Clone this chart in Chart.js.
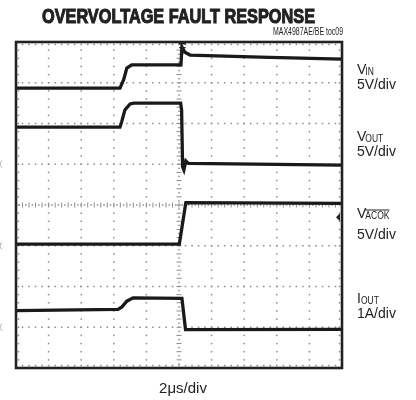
<!DOCTYPE html>
<html>
<head>
<meta charset="utf-8">
<script src="https://cdn.jsdelivr.net/npm/chart.js@4"></script>
<style>
  html, body { margin: 0; padding: 0; background: #fff; }
  #wrap { width: 416px; height: 400px; }
</style>
</head>
<body>
<div id="wrap"><canvas id="chart" width="416" height="400"></canvas></div>
<script>
// scope screen: x in divisions (2us/div, 10 div), y in divisions (8 div, 0 = bottom)
const vinT   = [0, 3.19, 3.30, 3.40, 3.55, 5.06, 5.09, 5.18, 5.34, 7.48, 10];
const vinV   = [6.87, 6.87, 7.07, 7.36, 7.44, 7.44, 7.88, 7.75, 7.68, 7.63, 7.58];

const voutT  = [0, 3.19, 3.24, 3.34, 3.50, 3.62, 5.05, 5.08, 5.11, 5.15, 5.21, 5.29, 10];
const voutV  = [5.91, 5.91, 6.04, 6.33, 6.48, 6.50, 6.50, 6.33, 4.94, 4.86, 5.08, 5.02, 4.98];

const acokT  = [0, 5.01, 5.21, 10];
const acokV  = [3.04, 3.04, 4.06, 4.04];

const ioutT  = [0, 3.13, 3.25, 3.40, 3.59, 5.09, 5.20, 10];
const ioutV  = [1.41, 1.44, 1.50, 1.64, 1.72, 1.71, 0.94, 0.95];

const chanMain  = ['V', 'V', 'V', 'I'];
const chanSub   = ['IN', 'OUT', 'ACOK', 'OUT'];
const chanScale = ['5V/div', '5V/div', '5V/div', '1A/div'];

const title = 'OVERVOLTAGE FAULT RESPONSE';
const figId = 'MAX4987AE/BE toc09';
const timeLabel = '2\u03bcs/div';

const pts = (t, v) => t.map((x, i) => ({ x, y: v[i] }));

function trace(data) {
  return { data, borderColor: '#1a1a1a', borderWidth: 3.3, pointRadius: 0, tension: 0, fill: false };
}

const gridPlugin = {
  id: 'scopeGrid',
  beforeDatasetsDraw(chart) {
    const { ctx, scales: { x, y } } = chart;
    ctx.save();
    ctx.fillStyle = '#8c8c8c';
    const dot = (px, py) => ctx.fillRect(px - 0.75, py - 0.75, 1.5, 1.5);
    // vertical dotted lines
    for (let i = 1; i < 10; i++) {
      const px = x.getPixelForValue(i);
      for (let k = 1; k < 40; k++) {
        if (i === 5) {
          const py = y.getPixelForValue(k / 5);
          ctx.fillRect(px - 2.5, py - 0.5, 5, 1);
          dot(px, y.getPixelForValue(k / 5 - 0.1));
        } else dot(px, y.getPixelForValue(k / 5));
      }
    }
    // horizontal dotted lines
    for (let j = 1; j < 8; j++) {
      const py = y.getPixelForValue(j);
      for (let k = 1; k < 50; k++) {
        if (j === 4) {
          const px = x.getPixelForValue(k / 5);
          ctx.fillRect(px - 0.5, py - 2.5, 1, 5);
          dot(x.getPixelForValue(k / 5 - 0.1), py);
        } else dot(x.getPixelForValue(k / 5), py);
      }
    }
    // minor ticks along the inside of the frame
    for (let k = 1; k < 50; k++) {
      const px = x.getPixelForValue(k / 5);
      dot(px, y.getPixelForValue(0) - 2.5);
      dot(px, y.getPixelForValue(8) + 2.5);
    }
    for (let k = 1; k < 40; k++) {
      const py = y.getPixelForValue(k / 5);
      dot(x.getPixelForValue(0) + 2.5, py);
      dot(x.getPixelForValue(10) - 2.5, py);
    }
    ctx.restore();
  },
  afterDraw(chart) {
    const { ctx, chartArea: a, scales: { x, y } } = chart;
    ctx.save();
    ctx.strokeStyle = '#222';
    ctx.lineWidth = 2.6;
    ctx.strokeRect(a.left, a.top, a.right - a.left, a.bottom - a.top);

    // trigger marker
    const tx = x.getPixelForValue(5.1);
    ctx.fillStyle = '#222';
    ctx.fillRect(tx - 3.5, a.top + 1, 7, 1.5);
    ctx.font = 'bold 11px "Liberation Sans"';
    ctx.textAlign = 'center';
    ctx.fillText('T', tx, a.top + 13);
    // trigger level arrow
    const ty = y.getPixelForValue(3.7);
    ctx.beginPath();
    ctx.moveTo(a.right - 6, ty);
    ctx.lineTo(a.right - 2, ty - 4);
    ctx.lineTo(a.right - 2, ty + 4);
    ctx.closePath();
    ctx.fill();

    // cropped ground markers at the far left
    ctx.strokeStyle = '#aaa';
    ctx.lineWidth = 1;
    [5, 3, 1].forEach(v => {
      const py = y.getPixelForValue(v);
      ctx.beginPath();
      ctx.arc(4, py, 4, Math.PI * 0.65, Math.PI * 1.35);
      ctx.stroke();
    });

    ctx.fillStyle = '#222';
    ctx.strokeStyle = '#222';
    const fit = (text, px, py, w, align, heavy) => {
      const m = ctx.measureText(text).width;
      const s = Math.min(1, w / m);
      ctx.save();
      ctx.translate(px, py);
      ctx.scale(s, 1);
      ctx.textAlign = align;
      ctx.fillText(text, 0, 0);
      if (heavy) {
        ctx.lineWidth = heavy;
        ctx.strokeText(text, 0, 0);
      }
      ctx.restore();
    };
    ctx.font = 'bold 21px "Liberation Sans"';
    fit(title, 178.5, 23, 273, 'center', 1.1);
    ctx.font = '10px "Liberation Sans"';
    fit(figId, 343, 35, 70, 'right');

    // channel labels
    const lx = 357;
    chanMain.forEach((m, i) => {
      const base = [74, 141, 218, 303][i];
      ctx.textAlign = 'left';
      ctx.font = '14px "Liberation Sans"';
      ctx.fillText(m, lx, base);
      const mw = ctx.measureText(m).width - (m === 'V' ? 1 : 0);
      ctx.font = '10px "Liberation Sans"';
      ctx.save();
      ctx.translate(lx + mw, base + 1);
      ctx.scale(0.85, 1);
      ctx.fillText(chanSub[i], 0, 0);
      const sw = ctx.measureText(chanSub[i]).width;
      if (chanSub[i] === 'ACOK') {
        ctx.fillRect(0, -9.5, sw, 1);
      }
      ctx.restore();
      ctx.font = '14px "Liberation Sans"';
      ctx.fillText(chanScale[i], lx, base + (i === 2 ? 21 : 15));
    });

    ctx.font = '15px "Liberation Sans"';
    ctx.textAlign = 'center';
    ctx.fillText(timeLabel, 183, 393);
    ctx.restore();
  }
};

new Chart(document.getElementById('chart'), {
  type: 'line',
  data: {
    datasets: [
      trace(pts(vinT, vinV)),
      trace(pts(voutT, voutV)),
      trace(pts(acokT, acokV)),
      trace(pts(ioutT, ioutV))
    ]
  },
  options: {
    responsive: false,
    animation: false,
    layout: { padding: { left: 16, right: 74, top: 42, bottom: 32 } },
    scales: {
      x: { type: 'linear', min: 0, max: 10, display: false },
      y: { type: 'linear', min: 0, max: 8, display: false }
    },
    plugins: { legend: { display: false }, tooltip: { enabled: false } }
  },
  plugins: [gridPlugin]
});
</script>
</body>
</html>
